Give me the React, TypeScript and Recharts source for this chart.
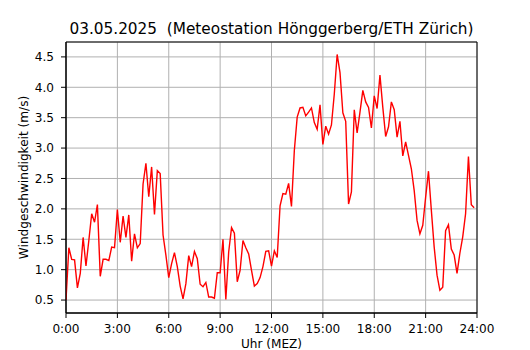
import React from 'react';
import { LineChart, Line, XAxis, YAxis, CartesianGrid, ReferenceArea, Label } from 'recharts';

const title = '03.05.2025  (Meteostation Hönggerberg/ETH Zürich)';
const xAxisTitle = 'Uhr (MEZ)';
const yAxisTitle = 'Windgeschwindigkeit (m/s)';

const hourTicks = [0, 3, 6, 9, 12, 15, 18, 21, 24];
const hourTickLabels = ['0:00', '3:00', '6:00', '9:00', '12:00', '15:00', '18:00', '21:00', '24:00'];
const speedTicks = [0.5, 1.0, 1.5, 2.0, 2.5, 3.0, 3.5, 4.0, 4.5];
const speedDomain = [0.287, 4.745];

// 10-Minuten-Mittel ab 0:00
const stepMinutes = 10;
const windSpeed = [
  0.5, 1.36, 1.17, 1.16, 0.7, 0.94, 1.53, 1.06, 1.48, 1.92,
  1.78, 2.07, 0.89, 1.17, 1.17, 1.15, 1.37, 1.36, 1.99, 1.45,
  1.88, 1.53, 1.9, 1.14, 1.59, 1.36, 1.43, 2.41, 2.75, 2.2,
  2.69, 1.91, 2.63, 2.58, 1.57, 1.24, 0.87, 1.1, 1.28, 1.05,
  0.73, 0.52, 0.77, 1.23, 1.05, 1.3, 1.18, 0.76,
  0.72, 0.79, 0.55, 0.55, 0.53, 0.95, 0.95, 1.5, 0.51, 1.29,
  1.69, 1.6, 0.8, 0.99, 1.48, 1.36, 1.26, 0.99, 0.73, 0.77,
  0.87, 1.05, 1.3, 1.31, 1.06, 1.31, 1.2, 2.05, 2.25, 2.24,
  2.42, 2.04, 2.96, 3.51, 3.66, 3.67, 3.53, 3.59, 3.66, 3.42,
  3.31, 3.71,
  3.06, 3.36, 3.23, 3.38, 3.89, 4.54, 4.24, 3.58, 3.44, 2.08,
  2.28, 3.63, 3.25, 3.59, 3.95, 3.76, 3.67, 3.33, 3.86, 3.65,
  4.2, 3.67, 3.19, 3.35, 3.76, 3.63, 3.18, 3.44, 2.87, 3.1,
  2.88, 2.66, 2.3, 1.81, 1.59, 1.73, 2.19, 2.62, 1.98, 1.37,
  0.91, 0.66, 0.71, 1.64, 1.74, 1.34, 1.24, 0.94, 1.27, 1.54,
  1.92, 2.86, 2.07, 2.02,
];

const data = windSpeed.map((v, i) => ({ hour: (i * stepMinutes) / 60, speed: v }));

const font = '"DejaVu Sans", sans-serif';
const labelSize = 12.1;
const tickStyle = { fill: '#000', fontSize: labelSize, fontFamily: font };

const App: React.FC = () => {
  return (
    <div style={{ position: 'absolute', left: 0, top: 0, width: 530, height: 350, background: '#fff' }}>
      <svg width={530} height={350} style={{ position: 'absolute', left: 0, top: 0 }}>
        <text
          x={271.5}
          y={34}
          textAnchor="middle"
          fontFamily={font}
          fontSize={15.3}
          fill="#000"
          xmlSpace="preserve"
          style={{ whiteSpace: 'pre' }}
        >
          {title}
        </text>
      </svg>
      <div style={{ position: 'absolute', left: 0, top: 0 }}>
        <LineChart width={530} height={350} data={data} margin={{ top: 42, right: 53, bottom: 0, left: 0 }}>
          <CartesianGrid stroke="#b0b0b0" strokeWidth={1} />
          <XAxis
            dataKey="hour"
            type="number"
            domain={[0, 24]}
            ticks={hourTicks}
            tickFormatter={(h: number) => hourTickLabels[hourTicks.indexOf(h)]}
            height={37}
            tick={tickStyle}
            tickSize={5}
            tickMargin={6.5}
            stroke="#000"
            allowDataOverflow
          >
            <Label
              content={({ viewBox }: any) => (
                <text
                  x={viewBox.x + viewBox.width / 2}
                  y={348.3}
                  textAnchor="middle"
                  fontFamily={font}
                  fontSize={labelSize}
                  fill="#000"
                >
                  {xAxisTitle}
                </text>
              )}
            />
          </XAxis>
          <YAxis
            type="number"
            domain={speedDomain}
            ticks={speedTicks}
            tickFormatter={(v: number) => v.toFixed(1)}
            width={66}
            tick={tickStyle}
            tickSize={5}
            tickMargin={7}
            stroke="#000"
            allowDataOverflow
          >
            <Label
              content={({ viewBox }: any) => {
                const cy = viewBox.y + viewBox.height / 2;
                return (
                  <text
                    x={28}
                    y={cy}
                    transform={`rotate(-90, 28, ${cy})`}
                    textAnchor="middle"
                    fontFamily={font}
                    fontSize={labelSize}
                    fill="#000"
                  >
                    {yAxisTitle}
                  </text>
                );
              }}
            />
          </YAxis>
          <Line
            type="linear"
            dataKey="speed"
            stroke="#ff0000"
            strokeWidth={1.4}
            dot={false}
            activeDot={false}
            isAnimationActive={false}
          />
          <ReferenceArea
            x1={0}
            x2={24}
            y1={speedDomain[0]}
            y2={speedDomain[1]}
            fill="none"
            stroke="#000"
            strokeWidth={1}
          />
        </LineChart>
      </div>
    </div>
  );
};

export default App;
